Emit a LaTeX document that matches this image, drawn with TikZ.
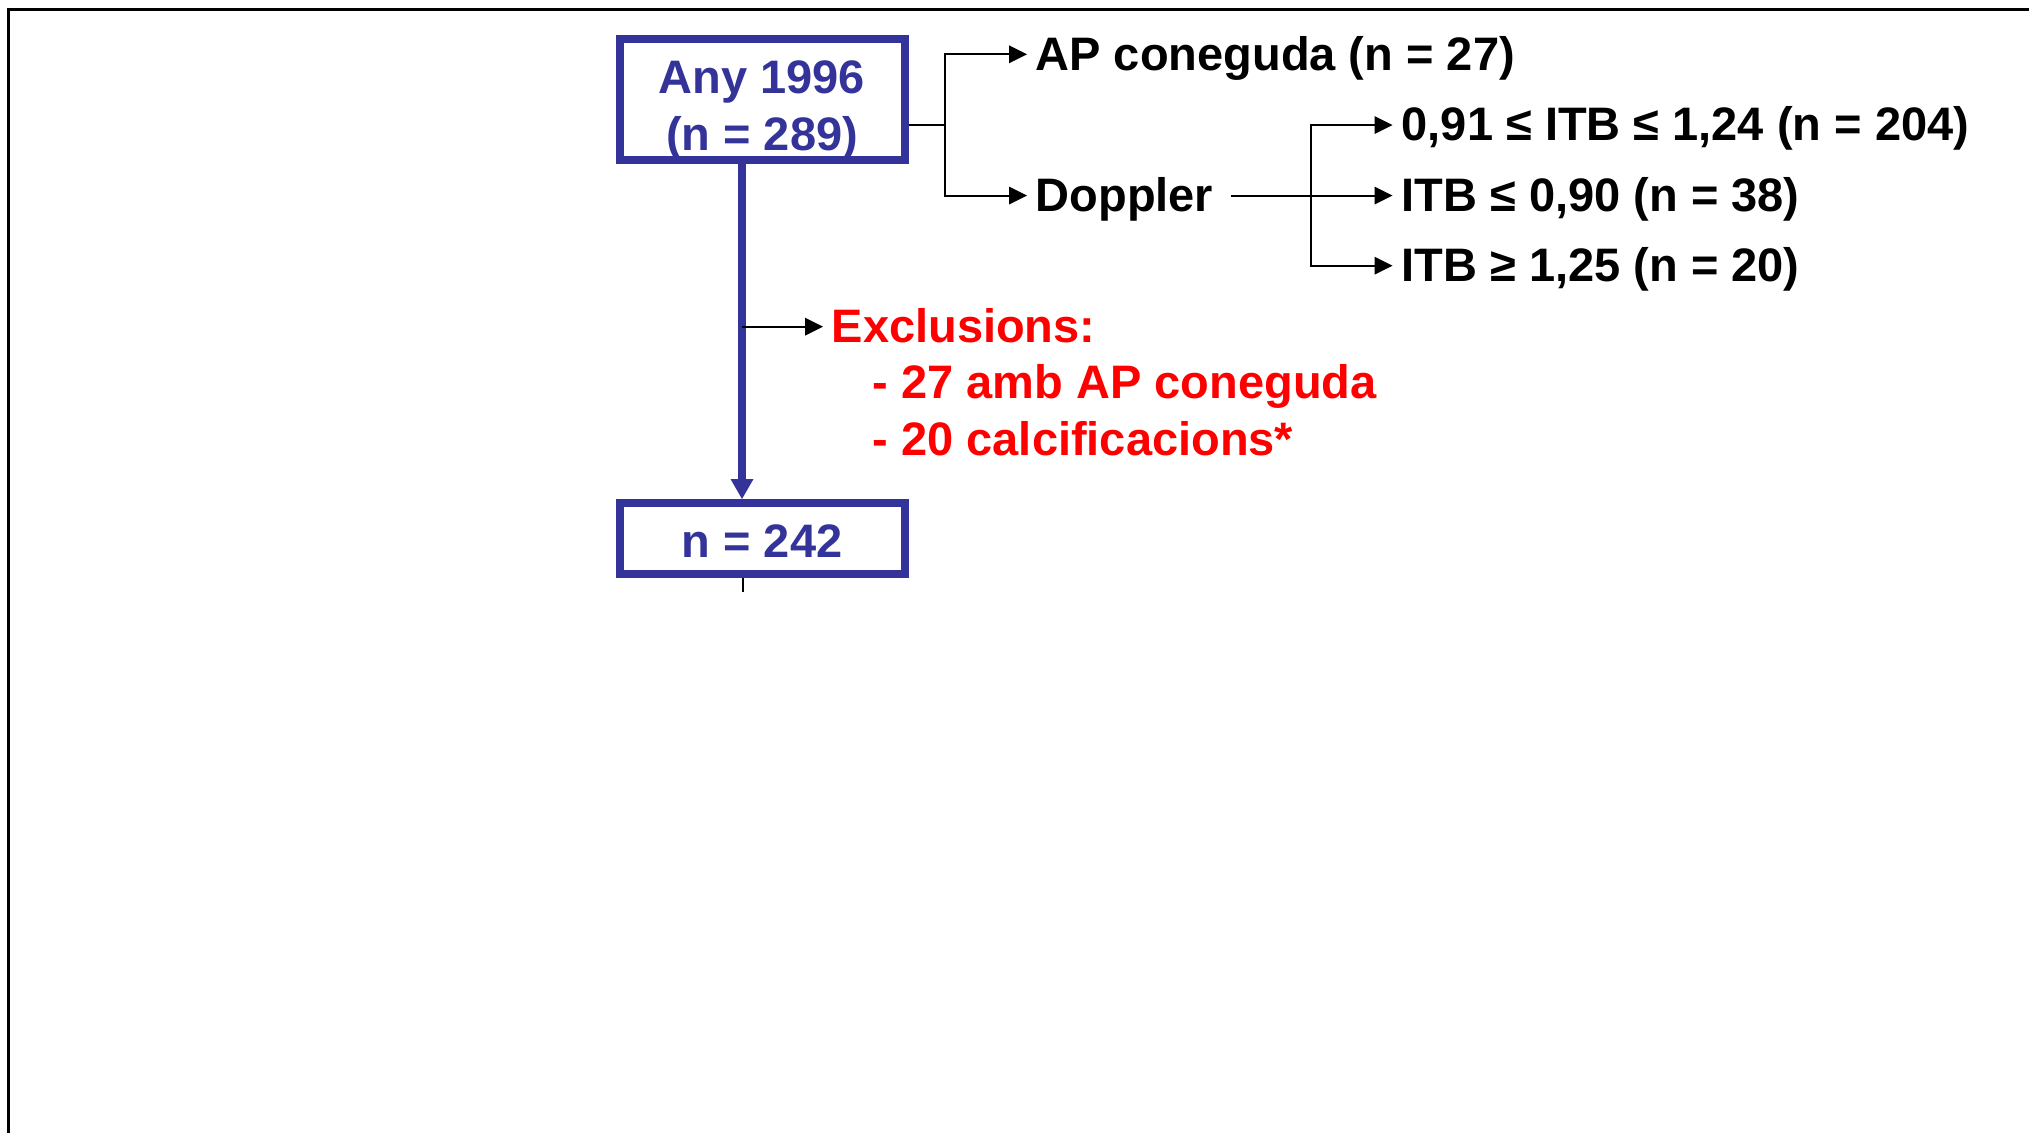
\documentclass[tikz,border=0pt]{standalone}
\usepackage{fontspec}
\setmainfont{Liberation Sans}
\usetikzlibrary{arrows.meta}
\definecolor{boxblue}{RGB}{51,51,153}
\definecolor{exred}{RGB}{255,0,0}
\begin{document}
\begin{tikzpicture}[x=0.1mm,y=-0.1mm,
  every node/.style={inner sep=0pt, font=\fontsize{13.37pt}{16pt}\selectfont\bfseries},
  flowbox/.style={draw=boxblue, line width=0.8mm, minimum width=28.45mm, minimum height=12.1mm},
  boxtxt/.style={text=boxblue, anchor=base},
  branch/.style={anchor=west, text height=3.15mm, text depth=0pt},
  link/.style={line width=0.2mm},
  linkarr/.style={link, -{Triangle[length=1.8mm,width=1.8mm,line width=0pt]}},
  mainflow/.style={draw=boxblue, line width=0.8mm, -{Triangle[length=2mm,width=2.3mm,line width=0pt]}},
]
\useasboundingbox (0,0) rectangle (2029,1133);

% outer frame
\draw[line width=0.25mm] (8.5,1140) -- (8.5,9.5) -- (2040,9.5);

% main boxes
\node[flowbox] (box1) at (762.25,99.5) {};
\node[flowbox, minimum height=7.1mm] (box2) at (762.25,538.5) {};

% branch labels
\node[branch] (ap) at (1035,54.3) {AP coneguda (n = 27)};
\node[branch] (dop) at (1035,195.5) {Doppler};
\node[branch] (itbA) at (1401,125) {0,91 ≤ ITB ≤ 1,24 (n = 204)};
\node[branch] (itbB) at (1401,195.5) {ITB ≤ 0,90 (n = 38)};
\node[branch] (itbC) at (1401,265.7) {ITB ≥ 1,25 (n = 20)};

% exclusions
\node[branch, text=exred] (excl) at (831,326.7) {Exclusions:};
\node[anchor=base west, text=exred] (exclA) at (872,398.7) {- 27 amb AP coneguda};
\node[anchor=base west, text=exred] (exclB) at (872,455.7) {- 20 calcificacions*};

% junction points
\coordinate (fork1) at (945,125);
\coordinate (fork2) at (1311,195.5);
\coordinate (trunk) at (742,0);
\coordinate (tickend) at (742.7,592);

% connectors (box anchors sit on the outer edge of the thick border)
\draw[link] (box2.south -| tickend) -- (tickend);
\draw[mainflow] (box1.south -| trunk) -- (box2.north -| trunk);
\draw[linkarr, shorten >=0.8mm] (trunk |- excl.west) -- (excl.west);

\draw[link] (box1.east |- fork1) -- (fork1);
\draw[linkarr, shorten >=0.8mm] (fork1) |- (ap.west);
\draw[linkarr, shorten >=0.8mm] (fork1) |- (dop.west);

\draw[link] ([xshift=1.7mm]dop.east) -- (fork2);
\draw[linkarr, shorten >=0.85mm] (fork2) |- (itbA.west);
\draw[linkarr, shorten >=0.85mm] (fork2) -- (itbB.west);
\draw[linkarr, shorten >=0.85mm] (fork2) |- (itbC.west);

% box texts
\node[boxtxt] (box1a) at (762,93.3) {Any 1996};
\node[boxtxt] (box1b) at (762,150) {(n = 289)};
\node[boxtxt] (box2t) at (762,557.3) {n = 242};
\end{tikzpicture}
\end{document}
